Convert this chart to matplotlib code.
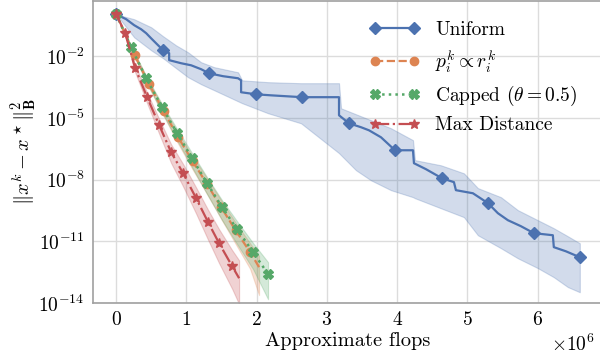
import numpy as np
import matplotlib
matplotlib.use("Agg")
import matplotlib.pyplot as plt

plt.rcParams["font.family"] = ["cmr10", "DejaVu Serif"]
plt.rcParams["mathtext.fontset"] = "cm"
plt.rcParams["axes.unicode_minus"] = False
plt.rcParams["axes.formatter.use_mathtext"] = True
plt.rcParams["font.size"] = 14

# Uniform: mean curve (flops, log10 error)
uni_x = [0.0, 0.142, 0.256, 0.356, 0.427, 0.498, 0.583, 0.669, 0.754, 0.754,
         0.925, 1.067, 1.209, 1.323, 1.522, 1.735, 1.778, 1.778, 1.991, 2.205,
         2.646, 3.172, 3.172, 3.314, 3.485, 3.599, 3.770, 3.969, 4.225, 4.239,
         4.410, 4.637, 4.808, 4.836, 5.078, 5.292, 5.434, 5.576, 5.761, 5.946,
         6.216, 6.230, 6.401, 6.600]
uni_y = [0.04, -0.20, -0.49, -0.69, -0.88, -1.13, -1.42, -1.71, -1.85, -2.19,
         -2.34, -2.44, -2.63, -2.83, -2.97, -3.07, -3.17, -3.75, -3.85, -3.90,
         -3.99, -3.99, -4.87, -5.26, -5.45, -5.60, -5.94, -6.57, -6.57, -7.20,
         -7.49, -7.93, -8.12, -8.51, -8.66, -9.14, -9.63, -9.97, -10.26, -10.60,
         -10.70, -11.28, -11.48, -11.77]
# Uniform: spread band
uni_band_x = [0.0, 0.256, 0.498, 0.669, 0.853, 1.024, 1.209, 1.394, 1.735, 1.792,
              2.162, 2.632, 3.172, 3.201, 3.414, 3.627, 3.912, 4.225, 4.253, 4.623,
              4.950, 5.149, 5.477, 5.718, 6.003, 6.230, 6.430, 6.600]
uni_hi = [0.04, -0.20, -0.59, -1.03, -1.47, -1.81, -2.29, -2.53, -2.78, -3.17,
          -3.26, -3.31, -3.31, -4.53, -4.82, -5.11, -5.50, -6.08, -7.05, -7.30,
          -7.69, -8.41, -8.85, -9.48, -9.97, -10.36, -10.75, -11.09]
uni_lo = [0.04, -1.08, -1.71, -2.10, -2.58, -3.02, -3.36, -3.65, -4.19, -4.28,
          -4.77, -5.26, -6.71, -6.81, -7.54, -8.03, -8.51, -8.85, -8.90, -9.39,
          -9.82, -10.70, -11.33, -11.82, -12.30, -12.74, -13.22, -13.47]

# p_i^k proportional to r_i^k
prop_x = [0.0, 0.263, 0.469, 0.676, 0.882, 1.088, 1.294, 1.494, 1.700, 1.906, 2.034]
prop_y = [0.04, -1.95, -3.36, -4.67, -5.94, -7.10, -8.22, -9.34, -10.46, -11.52, -12.25]
prop_hi = [0.04, -1.88, -3.25, -4.52, -5.74, -6.86, -7.93, -9.00, -10.08, -11.09, -11.70]
prop_lo = [0.04, -2.05, -3.52, -4.90, -6.25, -7.50, -8.70, -9.90, -11.12, -12.33, -13.61]

# Capped (theta = 0.5)
cap_x = [0.0, 0.213, 0.427, 0.654, 0.868, 1.081, 1.294, 1.508, 1.721, 1.949, 2.162]
cap_y = [0.04, -1.56, -3.07, -4.48, -5.74, -6.96, -8.17, -9.34, -10.41, -11.52, -12.59]
cap_hi = [0.04, -1.50, -2.96, -4.33, -5.54, -6.71, -7.88, -9.00, -10.02, -11.08, -12.01]
cap_lo = [0.04, -1.65, -3.24, -4.74, -6.08, -7.40, -8.70, -9.97, -11.13, -12.35, -13.81]

# Max Distance
maxd_x = [0.0, 0.128, 0.270, 0.441, 0.612, 0.782, 0.953, 1.138, 1.309, 1.465, 1.650, 1.750]
maxd_y = [0.04, -0.88, -2.58, -3.99, -5.35, -6.66, -7.69, -8.90, -10.07, -11.09, -12.20, -12.79]
maxd_hi = [0.04, -0.80, -2.43, -3.77, -5.05, -6.28, -7.24, -8.38, -9.47, -10.41, -11.42, -11.92]
maxd_lo = [0.04, -0.98, -2.78, -4.29, -5.77, -7.19, -8.33, -9.65, -10.93, -12.06, -13.30, -14.05]

COLORS = {"blue": "#4C72B0", "orange": "#DD8452", "green": "#55A868", "red": "#C44E52"}


def p(v):
    return 10.0 ** np.asarray(v)


def f(v):
    return np.asarray(v) * 1e6


fig = plt.figure(figsize=(6, 3.6), dpi=100)
ax = fig.add_axes([0.155, 0.158, 0.85, 0.84])

# uniform markers at evenly spaced flops
uni_xa = np.asarray(uni_x)
targets = np.linspace(0, uni_xa[-1], 11)
uni_marks = sorted({int(np.argmin(np.abs(uni_xa - t))) for t in targets})

ax.fill_between(f(uni_band_x), p(uni_lo), p(uni_hi), color=COLORS["blue"], alpha=0.25, lw=0.8)
ax.plot(f(uni_x), p(uni_y), "-", color=COLORS["blue"], lw=1.6, marker="D", ms=6,
        markevery=uni_marks, label="Uniform")

ax.fill_between(f(prop_x), p(prop_lo), p(prop_hi), color=COLORS["orange"], alpha=0.25, lw=0.8)
ax.plot(f(prop_x), p(prop_y), "--", color=COLORS["orange"], lw=1.6, marker="o", ms=6,
        markevery=list(range(len(prop_x) - 1)), label=r"$p_i^k \propto r_i^k$")

ax.fill_between(f(cap_x), p(cap_lo), p(cap_hi), color=COLORS["green"], alpha=0.25, lw=0.8)
ax.plot(f(cap_x), p(cap_y), ":", color=COLORS["green"], lw=1.8, marker="X", ms=6.5,
        label=r"Capped ($\theta = 0.5$)")

ax.fill_between(f(maxd_x), p(maxd_lo), p(maxd_hi), color=COLORS["red"], alpha=0.25, lw=0.8)
ax.plot(f(maxd_x), p(maxd_y), "-.", color=COLORS["red"], lw=1.6, marker="*", ms=7.5,
        markevery=list(range(len(maxd_x) - 1)), label="Max Distance")

ax.set_yscale("log")
ax.set_ylim(1e-14, 5)
ax.set_yticks([1e-2, 1e-5, 1e-8, 1e-11, 1e-14])
ax.yaxis.set_minor_locator(matplotlib.ticker.NullLocator())
ax.set_xticks([0, 1e6, 2e6, 3e6, 4e6, 5e6, 6e6])
ax.ticklabel_format(axis="x", style="sci", scilimits=(0, 0))
ax.xaxis.get_offset_text().set_x(0.94)
ax.xaxis.get_offset_text().set_ha("center")

ax.grid(True, color="#dcdcdc", lw=1.0)
ax.set_axisbelow(True)
for s in ax.spines.values():
    s.set_color("#a0a0a0")
    s.set_linewidth(1.2)
ax.tick_params(length=0, pad=6)

ax.set_xlabel("Approximate flops", labelpad=2, fontsize=14.7)
ax.set_ylabel(r"$\|x^k - x^\star\|_\mathbf{B}^2$", fontsize=14.7, labelpad=0)

ax.legend(loc="upper right", frameon=False, numpoints=2, handlelength=2.6,
          bbox_to_anchor=(0.985, 0.99), labelspacing=0.45)

fig.savefig("out.png", dpi=100)
